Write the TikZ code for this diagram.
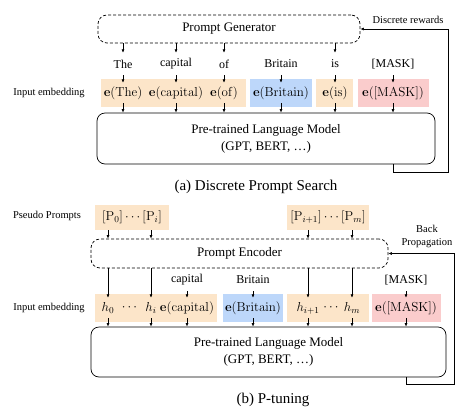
\RequirePackage{fix-cm}
\documentclass[tikz,border=0pt]{standalone}
\usepackage[no-math]{fontspec}
\setmainfont{Liberation Serif}
\usetikzlibrary{arrows.meta}
\definecolor{embOrange}{RGB}{252,229,201}
\definecolor{embBlue}{RGB}{189,215,250}
\definecolor{embPink}{RGB}{250,204,204}
\tikzset{
  ptarr/.style={-{Latex[length=3.5pt,width=3pt]}, line width=0.6pt},
  ptdash/.style={draw, dash pattern=on 3pt off 2pt, rounded corners=9pt, line width=0.7pt, font=\fontsize{13}{15}\selectfont},
  ptlm/.style={draw, rounded corners=8pt, line width=0.7pt, align=center, font=\fontsize{13}{17}\selectfont},
  ptbg/.style={inner sep=0pt, minimum height=28pt, font=\fontsize{13}{15}\selectfont},
  pttok/.style={inner sep=0pt, minimum height=22pt, font=\fontsize{12}{14}\selectfont},
  ptemb/.style={inner sep=0pt, minimum height=20pt, font=\fontsize{13}{15}\selectfont},
  ptlabel/.style={font=\fontsize{10.5}{13}\selectfont, align=center},
  ptcap/.style={font=\fontsize{15}{18}\selectfont},
}
\begin{document}
\begin{tikzpicture}[x=1pt,y=-1pt]
\useasboundingbox (0,0) rectangle (468,418);
% (a) discrete prompt search
\node[ptdash, minimum width=262pt, minimum height=28pt] (gen) at (229,29) {Prompt Generator};
\node[ptlabel, anchor=west] (rew) at (369,20) {Discrete rewards};
\node[pttok] (tThe) at (123,64) {The};
\node[pttok] (tCap) at (176,64) {capital};
\node[pttok] (tOf) at (224,64) {of};
\node[pttok] (tBrit) at (281,64) {Britain};
\node[pttok] (tIs) at (335,64) {is};
\node[pttok] (tMask) at (393,64) {[MASK]};
\node[ptbg, fill=embOrange, minimum width=145pt] (bgA) at (173.5,93) {};
\node[ptbg, fill=embBlue, minimum width=62pt] (bgB) at (281,93) {};
\node[ptbg, fill=embOrange, minimum width=37pt] (bgC) at (334.5,93) {};
\node[ptbg, fill=embPink, minimum width=71pt] (bgD) at (393.5,93) {};
\node[ptlabel] (inA) at (49,93) {Input embedding};
\node[ptemb] (eThe) at (123,93) {$\mathbf{e}(\mathrm{The})$};
\node[ptemb] (eCap) at (176,93) {$\mathbf{e}(\mathrm{capital})$};
\node[ptemb] (eOf) at (224,93) {$\mathbf{e}(\mathrm{of})$};
\node[ptemb] (eBrit) at (281,93) {$\mathbf{e}(\mathrm{Britain})$};
\node[ptemb] (eIs) at (335,93) {$\mathbf{e}(\mathrm{is})$};
\node[ptemb] (eMask) at (393,93) {$\mathbf{e}([\mathrm{MASK}])$};
\node[ptlm, minimum width=338pt, minimum height=51pt] (lmA) at (266,138.5) {Pre-trained Language Model\\(GPT, BERT, \dots)};
\node[ptcap] (capA) at (256,187) {(a) Discrete Prompt Search};
\foreach \n in {The,Cap,Of,Is}
  \draw[ptarr] (t\n |- gen.south) -- (t\n.north);
\foreach \n in {The,Cap,Of,Brit,Is,Mask} {
  \draw[ptarr] (t\n.south) -- (e\n.north);
  \draw[ptarr] (e\n.south) -- (e\n |- lmA.north);
}
\draw[ptarr] (lmA.south -| eMask) -- ++(0,8) -| ([xshift=88pt]gen.east) -- (gen.east);
% (b) p-tuning
\node[ptlabel] (ppl) at (47,216) {Pseudo Prompts};
\node[ptbg, fill=embOrange, minimum width=74pt, minimum height=25pt] (pA) at (132,217.5) {$[\mathrm{P}_0]\cdots[\mathrm{P}_i]$};
\node[ptbg, fill=embOrange, minimum width=82pt, minimum height=25pt] (pB) at (328,217.5) {$[\mathrm{P}_{i+1}]\cdots[\mathrm{P}_m]$};
\node[ptdash, minimum width=297pt, minimum height=29pt] (enc) at (239.5,253.5) {Prompt Encoder};
\node[ptlabel] (bp) at (427,236.5) {Back\\Propagation};
\node[pttok] (lCap) at (187,280) {capital};
\node[pttok] (lBrit) at (253,280) {Britain};
\node[pttok] (lMask) at (406,280) {[MASK]};
\node[ptbg, fill=embOrange, minimum width=122pt] (bgE) at (156,308) {};
\node[ptbg, fill=embBlue, minimum width=60pt] (bgF) at (253,308) {};
\node[ptbg, fill=embOrange, minimum width=82pt] (bgG) at (328,308) {};
\node[ptbg, fill=embPink, minimum width=69pt] (bgH) at (406.5,308) {};
\node[ptlabel] (inB) at (49,308) {Input embedding};
\node[ptemb] (hA) at (108,308) {$h_0$};
\node[ptemb] (dA) at (129.5,308) {$\cdots$};
\node[ptemb] (hB) at (151,308) {$h_i$};
\node[ptemb] (eCapB) at (187,308) {$\mathbf{e}(\mathrm{capital})$};
\node[ptemb] (eBritB) at (253,308) {$\mathbf{e}(\mathrm{Britain})$};
\node[ptemb] (hC) at (308,308) {$h_{i+1}$};
\node[ptemb] (dB) at (331,308) {$\cdots$};
\node[ptemb] (hD) at (352,308) {$h_m$};
\node[ptemb] (eMaskB) at (406,308) {$\mathbf{e}([\mathrm{MASK}])$};
\node[ptlm, minimum width=355pt, minimum height=50pt] (lmB) at (268.5,352) {Pre-trained Language Model\\(GPT, BERT, \dots)};
\node[ptcap] (capB) at (273,400) {(b) P-tuning};
\foreach \n in {hA,hB}
  \draw[ptarr] (pA.south -| \n) -- (\n |- enc.north);
\foreach \n in {hC,hD}
  \draw[ptarr] (pB.south -| \n) -- (\n |- enc.north);
\foreach \n in {hA,hB,hC,hD}
  \draw[ptarr] (\n |- enc.south) -- (\n.north);
\draw[ptarr] (lCap.south) -- (eCapB.north);
\draw[ptarr] (lBrit.south) -- (eBritB.north);
\draw[ptarr] (lMask.south) -- (eMaskB.north);
\foreach \n in {hA,hB,eCapB,eBritB,hC,hD,eMaskB}
  \draw[ptarr] (\n.south) -- (\n |- lmB.north);
\draw[ptarr] (lmB.south -| eMaskB) -- ++(0,7) -| ([xshift=66pt]enc.east) -- (enc.east);
\end{tikzpicture}
\end{document}
